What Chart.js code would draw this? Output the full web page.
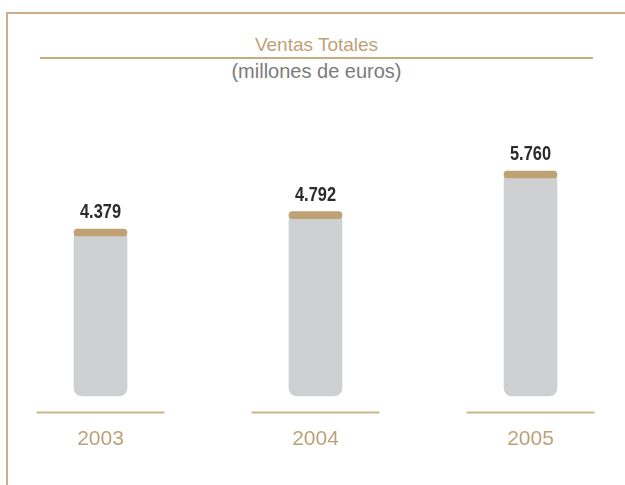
<!DOCTYPE html>
<html>
<head>
<meta charset="utf-8">
<script src="https://cdn.jsdelivr.net/npm/chart.js@4.4.1/dist/chart.umd.min.js"></script>
<style>
  html,body{margin:0;padding:0;background:#fff;}
  #page{position:relative;width:625px;height:485px;overflow:hidden;font-family:"Liberation Sans",Arial,sans-serif;}
  #frame{position:absolute;left:6px;top:12px;width:619px;height:473px;border-top:2px solid #c9b18a;border-left:2px solid #c9b18a;box-sizing:border-box;}
  .ttl{position:absolute;left:40px;width:553px;text-align:center;font-size:19px;line-height:22px;white-space:nowrap;}
  #title{top:34px;color:#bea277;}
  #rule{position:absolute;left:40px;top:57px;width:553px;height:2px;background:#c9ab7e;}
  #subtitle{top:60px;color:#7b7b7d;font-size:20px;}
  #host{position:absolute;left:0;top:0;width:625px;height:485px;}
</style>
</head>
<body>
<div id="page">
  <div id="frame"></div>
  <div id="title" class="ttl">Ventas Totales</div>
  <div id="rule"></div>
  <div id="subtitle" class="ttl">(millones de euros)</div>
  <div id="host"><canvas id="c"></canvas></div>
</div>
<script>
const YEARS = ['2003','2004','2005'];
const SALES = [4379, 4792, 5760];
const BAR_BASE = 405;   // gray column starts a little above the zero line
const CAP = 167;        // height of the tan cap, in euros

const TAN = '#bea273';
const fmt = v => String(v).replace(/\B(?=(\d{3})+(?!\d))/g, '.');

// values above the caps, squeezed horizontally to look like a narrow face
const valueLabels = {
  id:'valueLabels',
  afterDatasetsDraw(chart){
    const meta = chart.getDatasetMeta(0);
    const ctx = chart.ctx;
    meta.data.forEach((bar,i)=>{
      ctx.save();
      ctx.translate(bar.x, bar.y - 11);
      ctx.scale(0.78, 1);
      ctx.font = 'bold 21px "Liberation Sans",Arial,sans-serif';
      ctx.fillStyle = '#2b2b2b';
      ctx.textAlign = 'center';
      ctx.textBaseline = 'alphabetic';
      ctx.fillText(fmt(SALES[i]), 0, 0);
      ctx.restore();
    });
  }
};

const baseRules = {
  id:'baseRules',
  beforeDatasetsDraw(chart){
    const x = chart.scales.x, y = chart.scales.y;
    const ctx = chart.ctx, y0 = Math.round(y.getPixelForValue(0)) - 0.5;
    ctx.save();
    ctx.strokeStyle = '#cdb690';
    ctx.lineWidth = 2;
    YEARS.forEach((_,i)=>{
      const cx = x.getPixelForValue(i);
      ctx.beginPath(); ctx.moveTo(cx - 64, y0); ctx.lineTo(cx + 64, y0); ctx.stroke();
    });
    ctx.restore();
  }
};

new Chart(document.getElementById('c'), {
  type:'bar',
  data:{datasets:[
    {label:'Tope', data:SALES.map((v,i)=>({x:i, y:[v - CAP, v]})), backgroundColor:TAN,
      borderRadius:4, borderSkipped:false, barThickness:53, grouped:false},
    {label:'Ventas', data:SALES.map((v,i)=>({x:i, y:[BAR_BASE, v - 20]})), backgroundColor:'#cfd0d1',
      borderRadius:8, borderSkipped:false, barThickness:53, grouped:false}
  ]},
  options:{
    responsive:true, maintainAspectRatio:false, animation:false,
    layout:{padding:{top:100, left:0, right:0, bottom:0}},
    scales:{
      x:{type:'linear', offset:false, min:-0.4674, max:2.4395,
        grid:{display:false, offset:false}, border:{display:false},
        afterFit: s => { s.height = 72; },
        afterBuildTicks: s => { s.ticks = YEARS.map((_,i)=>({value:i})); },
        ticks:{color:'#bca27a', padding:6, font:{family:'"Liberation Sans",Arial,sans-serif', size:21},
          callback: v => YEARS[v]}},
      y:{display:false, min:0, max:7450}
    },
    plugins:{legend:{display:false}, tooltip:{enabled:false}}
  },
  plugins:[baseRules, valueLabels]
});
</script>
</body>
</html>
